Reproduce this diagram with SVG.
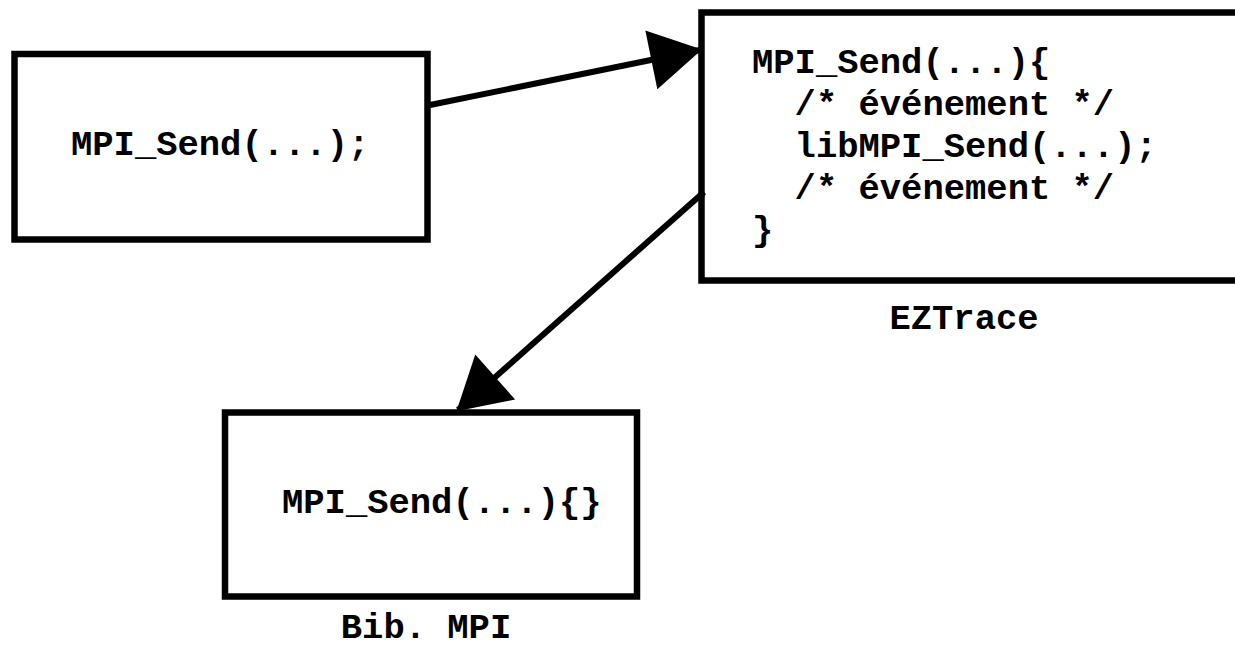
<svg xmlns="http://www.w3.org/2000/svg" width="1235" height="648" viewBox="0 0 1235 648">
<defs>
<style>
.box{fill:#fff;stroke:#000;stroke-width:6.5}
.code{font-family:"Liberation Mono","Courier New",monospace;font-weight:bold;font-size:35.5px;fill:#000;white-space:pre}
.edge{stroke:#000;stroke-width:6;fill:none}
</style>
<marker id="arr" markerUnits="userSpaceOnUse" markerWidth="60" markerHeight="60" viewBox="0 0 50 58" refX="48" refY="29" orient="auto">
<path d="M0,0 L50,29 L0,58 Z" fill="#000"/>
</marker>
</defs>
<rect width="1235" height="648" fill="#fff"/>
<g id="caller">
<rect class="box" x="14.5" y="54" width="413" height="185.5"/>
<text class="code" x="71" y="155">MPI_Send(...);</text>
</g>
<g id="eztrace">
<rect class="box" x="701.5" y="12.5" width="560" height="268"/>
<text class="code" x="752" y="73">MPI_Send(...){</text>
<text class="code" x="752" y="115">  /* événement */</text>
<text class="code" x="752" y="157">  libMPI_Send(...);</text>
<text class="code" x="752" y="199">  /* événement */</text>
<text class="code" x="752" y="241">}</text>
<text class="code" x="964" y="329" text-anchor="middle">EZTrace</text>
</g>
<g id="bibmpi">
<rect class="box" x="225" y="412.5" width="412" height="184"/>
<text class="code" x="282" y="513">MPI_Send(...){}</text>
<text class="code" x="426" y="638" text-anchor="middle">Bib. MPI</text>
</g>
<g id="connectors">
<line class="edge" x1="430" y1="105" x2="700" y2="50" marker-end="url(#arr)"/>
<line class="edge" x1="704" y1="192" x2="458" y2="410" marker-end="url(#arr)"/>
</g>
</svg>
